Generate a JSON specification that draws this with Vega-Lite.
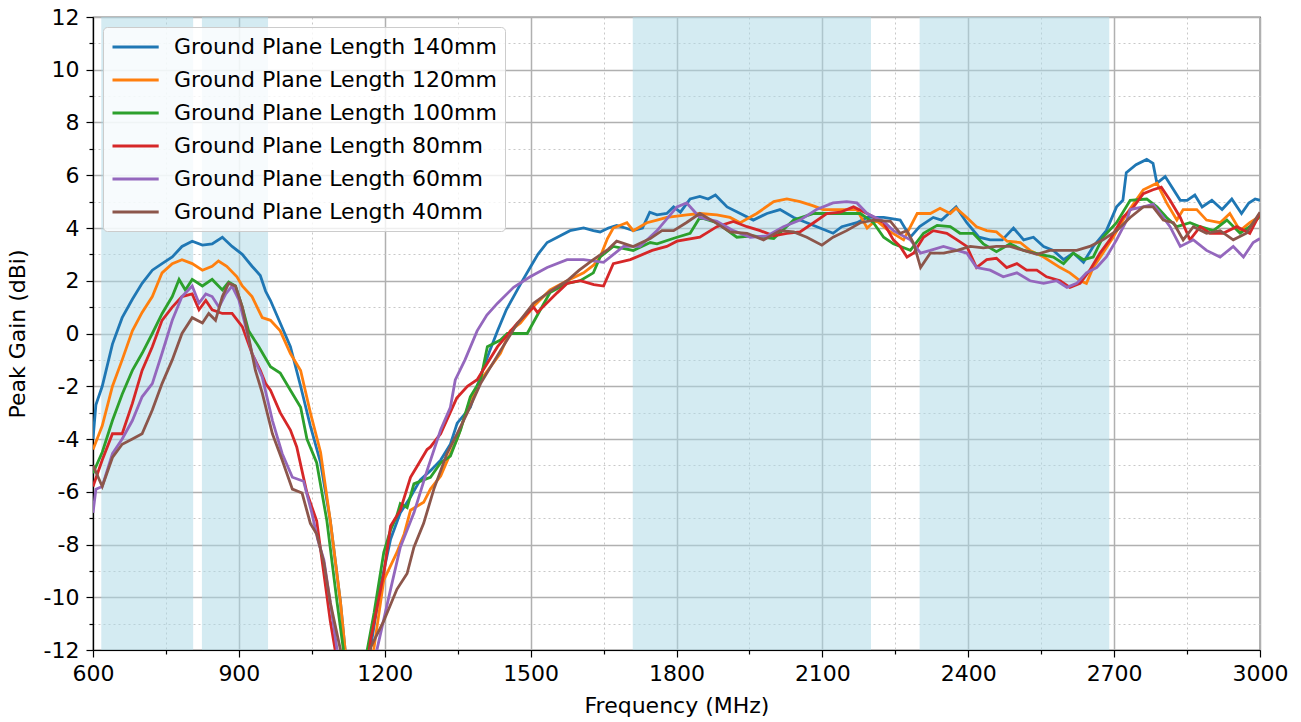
{
  "$schema": "https://vega.github.io/schema/vega-lite/v6.json",
  "width": 1167,
  "height": 633,
  "autosize": {"type": "none"},
  "padding": {"left": 93, "top": 17, "right": 41, "bottom": 72},
  "background": "white",
  "config": {
    "font": "DejaVu Sans",
    "view": {"stroke": "#000000", "strokeWidth": 1.2},
    "axis": {
      "labelFont": "DejaVu Sans", "titleFont": "DejaVu Sans",
      "labelFontSize": 22, "titleFontSize": 22, "titleFontWeight": "normal",
      "labelColor": "#000000", "titleColor": "#000000",
      "domainColor": "#000000", "domainWidth": 1.2,
      "tickColor": "#000000", "tickWidth": 1.2,
      "labelPadding": 6, "labelFlush": false
    },
    "legend": {
      "labelFont": "DejaVu Sans", "labelFontSize": 22, "labelColor": "#000000"
    }
  },
  "datasets": {
    "bands": [
      {"a": 617, "b": 806},
      {"a": 824, "b": 960},
      {"a": 1710, "b": 2200},
      {"a": 2300, "b": 2690}
    ],
    "curves": [
{"s":"140mm","f":600,"g":-4.0},{"s":"140mm","f":606,"g":-2.7},{"s":"140mm","f":619,"g":-2.0},{"s":"140mm","f":640,"g":-0.4},{"s":"140mm","f":660,"g":0.6},{"s":"140mm","f":681,"g":1.3},{"s":"140mm","f":701,"g":1.9},{"s":"140mm","f":722,"g":2.4},{"s":"140mm","f":742,"g":2.65},{"s":"140mm","f":763,"g":2.9},{"s":"140mm","f":783,"g":3.3},{"s":"140mm","f":804,"g":3.5},{"s":"140mm","f":825,"g":3.35},{"s":"140mm","f":845,"g":3.4},{"s":"140mm","f":866,"g":3.65},{"s":"140mm","f":886,"g":3.3},{"s":"140mm","f":907,"g":3.0},{"s":"140mm","f":927,"g":2.55},{"s":"140mm","f":944,"g":2.2},{"s":"140mm","f":955,"g":1.6},{"s":"140mm","f":965,"g":1.25},{"s":"140mm","f":985,"g":0.4},{"s":"140mm","f":1006,"g":-0.5},{"s":"140mm","f":1027,"g":-2.0},{"s":"140mm","f":1047,"g":-3.5},{"s":"140mm","f":1068,"g":-4.9},{"s":"140mm","f":1088,"g":-7.1},{"s":"140mm","f":1109,"g":-10.2},{"s":"140mm","f":1145,"g":-17},{"s":"140mm","f":1171,"g":-11.9},{"s":"140mm","f":1191,"g":-9.6},{"s":"140mm","f":1212,"g":-7.8},{"s":"140mm","f":1232,"g":-6.8},{"s":"140mm","f":1253,"g":-6.2},{"s":"140mm","f":1273,"g":-5.55},{"s":"140mm","f":1294,"g":-5.2},{"s":"140mm","f":1315,"g":-4.8},{"s":"140mm","f":1335,"g":-4.2},{"s":"140mm","f":1349,"g":-3.4},{"s":"140mm","f":1376,"g":-2.8},{"s":"140mm","f":1397,"g":-1.6},{"s":"140mm","f":1415,"g":-0.7},{"s":"140mm","f":1432,"g":0.1},{"s":"140mm","f":1450,"g":0.9},{"s":"140mm","f":1465,"g":1.4},{"s":"140mm","f":1480,"g":1.9},{"s":"140mm","f":1499,"g":2.5},{"s":"140mm","f":1515,"g":3.0},{"s":"140mm","f":1534,"g":3.45},{"s":"140mm","f":1560,"g":3.7},{"s":"140mm","f":1581,"g":3.9},{"s":"140mm","f":1609,"g":4.0},{"s":"140mm","f":1629,"g":3.9},{"s":"140mm","f":1643,"g":3.85},{"s":"140mm","f":1660,"g":4.0},{"s":"140mm","f":1677,"g":4.1},{"s":"140mm","f":1695,"g":4.0},{"s":"140mm","f":1711,"g":3.9},{"s":"140mm","f":1730,"g":4.0},{"s":"140mm","f":1745,"g":4.6},{"s":"140mm","f":1760,"g":4.5},{"s":"140mm","f":1780,"g":4.55},{"s":"140mm","f":1794,"g":4.8},{"s":"140mm","f":1808,"g":4.6},{"s":"140mm","f":1828,"g":5.1},{"s":"140mm","f":1848,"g":5.2},{"s":"140mm","f":1865,"g":5.1},{"s":"140mm","f":1880,"g":5.25},{"s":"140mm","f":1904,"g":4.8},{"s":"140mm","f":1931,"g":4.55},{"s":"140mm","f":1958,"g":4.3},{"s":"140mm","f":1986,"g":4.55},{"s":"140mm","f":2013,"g":4.7},{"s":"140mm","f":2041,"g":4.4},{"s":"140mm","f":2068,"g":4.2},{"s":"140mm","f":2095,"g":4.0},{"s":"140mm","f":2122,"g":3.8},{"s":"140mm","f":2140,"g":4.05},{"s":"140mm","f":2171,"g":4.2},{"s":"140mm","f":2192,"g":4.4},{"s":"140mm","f":2226,"g":4.4},{"s":"140mm","f":2260,"g":4.3},{"s":"140mm","f":2281,"g":3.65},{"s":"140mm","f":2300,"g":4.05},{"s":"140mm","f":2328,"g":4.4},{"s":"140mm","f":2345,"g":4.3},{"s":"140mm","f":2375,"g":4.8},{"s":"140mm","f":2397,"g":4.2},{"s":"140mm","f":2422,"g":3.65},{"s":"140mm","f":2445,"g":3.55},{"s":"140mm","f":2470,"g":3.55},{"s":"140mm","f":2493,"g":4.0},{"s":"140mm","f":2514,"g":3.55},{"s":"140mm","f":2534,"g":3.65},{"s":"140mm","f":2555,"g":3.3},{"s":"140mm","f":2575,"g":3.15},{"s":"140mm","f":2596,"g":2.8},{"s":"140mm","f":2616,"g":3.05},{"s":"140mm","f":2637,"g":2.7},{"s":"140mm","f":2657,"g":3.3},{"s":"140mm","f":2684,"g":3.9},{"s":"140mm","f":2705,"g":4.8},{"s":"140mm","f":2718,"g":5.05},{"s":"140mm","f":2725,"g":6.1},{"s":"140mm","f":2745,"g":6.4},{"s":"140mm","f":2767,"g":6.6},{"s":"140mm","f":2780,"g":6.45},{"s":"140mm","f":2788,"g":5.7},{"s":"140mm","f":2805,"g":5.95},{"s":"140mm","f":2836,"g":5.05},{"s":"140mm","f":2850,"g":5.05},{"s":"140mm","f":2866,"g":5.25},{"s":"140mm","f":2881,"g":4.8},{"s":"140mm","f":2901,"g":5.05},{"s":"140mm","f":2922,"g":4.7},{"s":"140mm","f":2942,"g":5.1},{"s":"140mm","f":2962,"g":4.55},{"s":"140mm","f":2977,"g":4.95},{"s":"140mm","f":2990,"g":5.1},{"s":"140mm","f":3000,"g":5.05},
{"s":"120mm","f":600,"g":-4.4},{"s":"120mm","f":619,"g":-3.5},{"s":"120mm","f":640,"g":-2.0},{"s":"120mm","f":660,"g":-1.0},{"s":"120mm","f":681,"g":0.1},{"s":"120mm","f":701,"g":0.8},{"s":"120mm","f":722,"g":1.4},{"s":"120mm","f":742,"g":2.3},{"s":"120mm","f":763,"g":2.65},{"s":"120mm","f":783,"g":2.8},{"s":"120mm","f":804,"g":2.65},{"s":"120mm","f":825,"g":2.4},{"s":"120mm","f":845,"g":2.55},{"s":"120mm","f":858,"g":2.75},{"s":"120mm","f":875,"g":2.55},{"s":"120mm","f":896,"g":2.15},{"s":"120mm","f":907,"g":1.8},{"s":"120mm","f":927,"g":1.4},{"s":"120mm","f":948,"g":0.6},{"s":"120mm","f":965,"g":0.5},{"s":"120mm","f":985,"g":0.1},{"s":"120mm","f":1006,"g":-0.76},{"s":"120mm","f":1027,"g":-1.4},{"s":"120mm","f":1047,"g":-3.0},{"s":"120mm","f":1068,"g":-4.5},{"s":"120mm","f":1088,"g":-7.1},{"s":"120mm","f":1109,"g":-10.2},{"s":"120mm","f":1145,"g":-17},{"s":"120mm","f":1178,"g":-11.9},{"s":"120mm","f":1198,"g":-9.35},{"s":"120mm","f":1225,"g":-8.3},{"s":"120mm","f":1240,"g":-7.6},{"s":"120mm","f":1253,"g":-6.7},{"s":"120mm","f":1280,"g":-6.4},{"s":"120mm","f":1294,"g":-5.9},{"s":"120mm","f":1315,"g":-5.4},{"s":"120mm","f":1335,"g":-4.55},{"s":"120mm","f":1349,"g":-4.0},{"s":"120mm","f":1376,"g":-2.5},{"s":"120mm","f":1397,"g":-1.76},{"s":"120mm","f":1420,"g":-1.2},{"s":"120mm","f":1438,"g":-0.75},{"s":"120mm","f":1458,"g":0.1},{"s":"120mm","f":1479,"g":0.4},{"s":"120mm","f":1510,"g":1.1},{"s":"120mm","f":1540,"g":1.65},{"s":"120mm","f":1575,"g":2.0},{"s":"120mm","f":1609,"g":2.3},{"s":"120mm","f":1630,"g":2.6},{"s":"120mm","f":1643,"g":2.9},{"s":"120mm","f":1658,"g":3.6},{"s":"120mm","f":1670,"g":4.0},{"s":"120mm","f":1698,"g":4.2},{"s":"120mm","f":1711,"g":3.9},{"s":"120mm","f":1739,"g":4.2},{"s":"120mm","f":1760,"g":4.3},{"s":"120mm","f":1780,"g":4.4},{"s":"120mm","f":1801,"g":4.45},{"s":"120mm","f":1821,"g":4.5},{"s":"120mm","f":1848,"g":4.55},{"s":"120mm","f":1883,"g":4.5},{"s":"120mm","f":1910,"g":4.4},{"s":"120mm","f":1931,"g":4.2},{"s":"120mm","f":1965,"g":4.55},{"s":"120mm","f":2000,"g":5.0},{"s":"120mm","f":2027,"g":5.1},{"s":"120mm","f":2054,"g":5.0},{"s":"120mm","f":2080,"g":4.85},{"s":"120mm","f":2102,"g":4.7},{"s":"120mm","f":2137,"g":4.7},{"s":"120mm","f":2171,"g":4.7},{"s":"120mm","f":2192,"g":4.0},{"s":"120mm","f":2210,"g":4.3},{"s":"120mm","f":2236,"g":3.9},{"s":"120mm","f":2267,"g":3.55},{"s":"120mm","f":2295,"g":4.55},{"s":"120mm","f":2322,"g":4.55},{"s":"120mm","f":2342,"g":4.75},{"s":"120mm","f":2363,"g":4.55},{"s":"120mm","f":2375,"g":4.75},{"s":"120mm","f":2397,"g":4.4},{"s":"120mm","f":2417,"g":4.05},{"s":"120mm","f":2438,"g":3.9},{"s":"120mm","f":2458,"g":3.85},{"s":"120mm","f":2480,"g":3.5},{"s":"120mm","f":2507,"g":3.45},{"s":"120mm","f":2527,"g":3.15},{"s":"120mm","f":2555,"g":2.9},{"s":"120mm","f":2589,"g":2.5},{"s":"120mm","f":2609,"g":2.3},{"s":"120mm","f":2630,"g":2.0},{"s":"120mm","f":2643,"g":1.9},{"s":"120mm","f":2657,"g":2.5},{"s":"120mm","f":2677,"g":3.05},{"s":"120mm","f":2698,"g":3.65},{"s":"120mm","f":2726,"g":4.55},{"s":"120mm","f":2760,"g":5.45},{"s":"120mm","f":2788,"g":5.7},{"s":"120mm","f":2808,"g":4.95},{"s":"120mm","f":2829,"g":4.3},{"s":"120mm","f":2842,"g":4.7},{"s":"120mm","f":2870,"g":4.7},{"s":"120mm","f":2890,"g":4.3},{"s":"120mm","f":2918,"g":4.2},{"s":"120mm","f":2938,"g":4.55},{"s":"120mm","f":2959,"g":3.9},{"s":"120mm","f":2979,"g":4.2},{"s":"120mm","f":3000,"g":4.45},
{"s":"100mm","f":600,"g":-5.3},{"s":"100mm","f":619,"g":-4.5},{"s":"100mm","f":640,"g":-3.3},{"s":"100mm","f":660,"g":-2.3},{"s":"100mm","f":681,"g":-1.4},{"s":"100mm","f":701,"g":-0.75},{"s":"100mm","f":722,"g":0.0},{"s":"100mm","f":742,"g":0.75},{"s":"100mm","f":763,"g":1.4},{"s":"100mm","f":777,"g":2.05},{"s":"100mm","f":790,"g":1.65},{"s":"100mm","f":804,"g":2.05},{"s":"100mm","f":825,"g":1.8},{"s":"100mm","f":845,"g":2.05},{"s":"100mm","f":866,"g":1.65},{"s":"100mm","f":879,"g":1.95},{"s":"100mm","f":893,"g":1.8},{"s":"100mm","f":907,"g":1.0},{"s":"100mm","f":920,"g":0.1},{"s":"100mm","f":941,"g":-0.5},{"s":"100mm","f":965,"g":-1.26},{"s":"100mm","f":985,"g":-1.5},{"s":"100mm","f":1006,"g":-2.15},{"s":"100mm","f":1027,"g":-2.8},{"s":"100mm","f":1040,"g":-4.0},{"s":"100mm","f":1060,"g":-4.9},{"s":"100mm","f":1081,"g":-7.1},{"s":"100mm","f":1102,"g":-10.2},{"s":"100mm","f":1115,"g":-12},{"s":"100mm","f":1140,"g":-17},{"s":"100mm","f":1164,"g":-12},{"s":"100mm","f":1178,"g":-10.6},{"s":"100mm","f":1198,"g":-8.3},{"s":"100mm","f":1212,"g":-7.45},{"s":"100mm","f":1225,"g":-6.9},{"s":"100mm","f":1232,"g":-6.45},{"s":"100mm","f":1246,"g":-6.6},{"s":"100mm","f":1260,"g":-5.7},{"s":"100mm","f":1280,"g":-5.55},{"s":"100mm","f":1294,"g":-5.45},{"s":"100mm","f":1315,"g":-4.9},{"s":"100mm","f":1335,"g":-4.65},{"s":"100mm","f":1356,"g":-3.65},{"s":"100mm","f":1376,"g":-2.4},{"s":"100mm","f":1397,"g":-1.76},{"s":"100mm","f":1411,"g":-0.5},{"s":"100mm","f":1438,"g":-0.25},{"s":"100mm","f":1452,"g":0.0},{"s":"100mm","f":1493,"g":0.0},{"s":"100mm","f":1520,"g":0.9},{"s":"100mm","f":1540,"g":1.55},{"s":"100mm","f":1575,"g":1.9},{"s":"100mm","f":1602,"g":2.0},{"s":"100mm","f":1629,"g":2.3},{"s":"100mm","f":1643,"g":2.9},{"s":"100mm","f":1670,"g":3.3},{"s":"100mm","f":1711,"g":3.15},{"s":"100mm","f":1746,"g":3.45},{"s":"100mm","f":1760,"g":3.4},{"s":"100mm","f":1801,"g":3.65},{"s":"100mm","f":1828,"g":3.8},{"s":"100mm","f":1848,"g":4.4},{"s":"100mm","f":1883,"g":4.2},{"s":"100mm","f":1924,"g":3.65},{"s":"100mm","f":1958,"g":3.7},{"s":"100mm","f":2000,"g":3.6},{"s":"100mm","f":2041,"g":4.3},{"s":"100mm","f":2082,"g":4.55},{"s":"100mm","f":2122,"g":4.55},{"s":"100mm","f":2178,"g":4.55},{"s":"100mm","f":2205,"g":4.2},{"s":"100mm","f":2226,"g":3.65},{"s":"100mm","f":2246,"g":3.4},{"s":"100mm","f":2281,"g":3.15},{"s":"100mm","f":2308,"g":3.8},{"s":"100mm","f":2336,"g":4.1},{"s":"100mm","f":2363,"g":4.05},{"s":"100mm","f":2383,"g":3.8},{"s":"100mm","f":2410,"g":3.8},{"s":"100mm","f":2431,"g":3.4},{"s":"100mm","f":2458,"g":3.1},{"s":"100mm","f":2486,"g":3.4},{"s":"100mm","f":2514,"g":3.15},{"s":"100mm","f":2548,"g":3.0},{"s":"100mm","f":2575,"g":2.9},{"s":"100mm","f":2596,"g":2.65},{"s":"100mm","f":2616,"g":3.05},{"s":"100mm","f":2637,"g":2.8},{"s":"100mm","f":2657,"g":2.9},{"s":"100mm","f":2677,"g":3.65},{"s":"100mm","f":2705,"g":4.2},{"s":"100mm","f":2733,"g":5.05},{"s":"100mm","f":2767,"g":5.1},{"s":"100mm","f":2788,"g":4.8},{"s":"100mm","f":2808,"g":4.4},{"s":"100mm","f":2829,"g":4.05},{"s":"100mm","f":2856,"g":4.2},{"s":"100mm","f":2877,"g":4.05},{"s":"100mm","f":2904,"g":3.9},{"s":"100mm","f":2932,"g":4.3},{"s":"100mm","f":2959,"g":3.8},{"s":"100mm","f":2979,"g":4.05},{"s":"100mm","f":3000,"g":4.45},
{"s":"80mm","f":600,"g":-5.8},{"s":"80mm","f":619,"g":-4.8},{"s":"80mm","f":640,"g":-3.8},{"s":"80mm","f":660,"g":-3.8},{"s":"80mm","f":681,"g":-2.65},{"s":"80mm","f":701,"g":-1.4},{"s":"80mm","f":722,"g":-0.5},{"s":"80mm","f":742,"g":0.5},{"s":"80mm","f":763,"g":1.0},{"s":"80mm","f":783,"g":1.4},{"s":"80mm","f":804,"g":1.5},{"s":"80mm","f":818,"g":0.9},{"s":"80mm","f":832,"g":1.25},{"s":"80mm","f":845,"g":0.9},{"s":"80mm","f":866,"g":0.76},{"s":"80mm","f":886,"g":0.76},{"s":"80mm","f":907,"g":0.26},{"s":"80mm","f":927,"g":-0.76},{"s":"80mm","f":944,"g":-1.4},{"s":"80mm","f":955,"g":-1.9},{"s":"80mm","f":965,"g":-2.15},{"s":"80mm","f":985,"g":-3.0},{"s":"80mm","f":1006,"g":-3.66},{"s":"80mm","f":1019,"g":-4.3},{"s":"80mm","f":1040,"g":-6.05},{"s":"80mm","f":1060,"g":-7.1},{"s":"80mm","f":1074,"g":-9.0},{"s":"80mm","f":1088,"g":-10.9},{"s":"80mm","f":1098,"g":-12},{"s":"80mm","f":1135,"g":-17},{"s":"80mm","f":1171,"g":-11.6},{"s":"80mm","f":1198,"g":-9.1},{"s":"80mm","f":1212,"g":-7.3},{"s":"80mm","f":1232,"g":-6.7},{"s":"80mm","f":1253,"g":-5.45},{"s":"80mm","f":1266,"g":-5.05},{"s":"80mm","f":1287,"g":-4.4},{"s":"80mm","f":1294,"g":-4.3},{"s":"80mm","f":1315,"g":-3.8},{"s":"80mm","f":1348,"g":-2.45},{"s":"80mm","f":1370,"g":-2.0},{"s":"80mm","f":1390,"g":-1.75},{"s":"80mm","f":1432,"g":-0.5},{"s":"80mm","f":1473,"g":0.4},{"s":"80mm","f":1506,"g":1.0},{"s":"80mm","f":1514,"g":0.8},{"s":"80mm","f":1555,"g":1.55},{"s":"80mm","f":1575,"g":1.9},{"s":"80mm","f":1602,"g":2.0},{"s":"80mm","f":1630,"g":1.85},{"s":"80mm","f":1650,"g":1.8},{"s":"80mm","f":1670,"g":2.65},{"s":"80mm","f":1705,"g":2.8},{"s":"80mm","f":1750,"g":3.15},{"s":"80mm","f":1780,"g":3.3},{"s":"80mm","f":1801,"g":3.5},{"s":"80mm","f":1848,"g":3.65},{"s":"80mm","f":1883,"g":4.05},{"s":"80mm","f":1917,"g":4.25},{"s":"80mm","f":1945,"g":4.05},{"s":"80mm","f":1972,"g":3.9},{"s":"80mm","f":2000,"g":3.7},{"s":"80mm","f":2027,"g":3.8},{"s":"80mm","f":2054,"g":3.85},{"s":"80mm","f":2082,"g":4.2},{"s":"80mm","f":2109,"g":4.55},{"s":"80mm","f":2137,"g":4.6},{"s":"80mm","f":2164,"g":4.8},{"s":"80mm","f":2192,"g":4.55},{"s":"80mm","f":2226,"g":4.2},{"s":"80mm","f":2246,"g":3.55},{"s":"80mm","f":2260,"g":3.3},{"s":"80mm","f":2274,"g":2.9},{"s":"80mm","f":2288,"g":3.05},{"s":"80mm","f":2308,"g":3.65},{"s":"80mm","f":2328,"g":3.9},{"s":"80mm","f":2356,"g":3.8},{"s":"80mm","f":2377,"g":3.55},{"s":"80mm","f":2397,"g":3.3},{"s":"80mm","f":2417,"g":2.5},{"s":"80mm","f":2438,"g":2.8},{"s":"80mm","f":2458,"g":2.85},{"s":"80mm","f":2479,"g":2.5},{"s":"80mm","f":2500,"g":2.65},{"s":"80mm","f":2520,"g":2.4},{"s":"80mm","f":2541,"g":2.4},{"s":"80mm","f":2561,"g":2.15},{"s":"80mm","f":2589,"g":2.0},{"s":"80mm","f":2609,"g":1.75},{"s":"80mm","f":2630,"g":1.9},{"s":"80mm","f":2650,"g":2.4},{"s":"80mm","f":2671,"g":3.05},{"s":"80mm","f":2691,"g":3.55},{"s":"80mm","f":2718,"g":4.4},{"s":"80mm","f":2740,"g":4.8},{"s":"80mm","f":2760,"g":5.3},{"s":"80mm","f":2780,"g":5.45},{"s":"80mm","f":2797,"g":5.55},{"s":"80mm","f":2815,"g":5.05},{"s":"80mm","f":2836,"g":4.4},{"s":"80mm","f":2856,"g":3.55},{"s":"80mm","f":2877,"g":4.05},{"s":"80mm","f":2897,"g":3.8},{"s":"80mm","f":2924,"g":3.8},{"s":"80mm","f":2952,"g":4.05},{"s":"80mm","f":2979,"g":3.8},{"s":"80mm","f":3000,"g":4.55},
{"s":"60mm","f":600,"g":-6.8},{"s":"60mm","f":606,"g":-5.9},{"s":"60mm","f":619,"g":-5.8},{"s":"60mm","f":640,"g":-4.55},{"s":"60mm","f":660,"g":-4.0},{"s":"60mm","f":681,"g":-3.3},{"s":"60mm","f":701,"g":-2.4},{"s":"60mm","f":722,"g":-1.9},{"s":"60mm","f":742,"g":-0.75},{"s":"60mm","f":763,"g":0.5},{"s":"60mm","f":783,"g":1.4},{"s":"60mm","f":804,"g":1.8},{"s":"60mm","f":818,"g":1.15},{"s":"60mm","f":832,"g":1.5},{"s":"60mm","f":845,"g":1.4},{"s":"60mm","f":859,"g":1.0},{"s":"60mm","f":873,"g":1.5},{"s":"60mm","f":886,"g":1.8},{"s":"60mm","f":900,"g":1.27},{"s":"60mm","f":914,"g":0.26},{"s":"60mm","f":927,"g":-0.76},{"s":"60mm","f":948,"g":-1.65},{"s":"60mm","f":969,"g":-3.3},{"s":"60mm","f":989,"g":-4.55},{"s":"60mm","f":1010,"g":-5.45},{"s":"60mm","f":1033,"g":-5.6},{"s":"60mm","f":1050,"g":-6.8},{"s":"60mm","f":1062,"g":-7.8},{"s":"60mm","f":1075,"g":-8.6},{"s":"60mm","f":1088,"g":-10.2},{"s":"60mm","f":1102,"g":-12},{"s":"60mm","f":1130,"g":-17},{"s":"60mm","f":1185,"g":-11.9},{"s":"60mm","f":1212,"g":-9.7},{"s":"60mm","f":1232,"g":-8.1},{"s":"60mm","f":1260,"g":-6.8},{"s":"60mm","f":1287,"g":-5.2},{"s":"60mm","f":1315,"g":-3.65},{"s":"60mm","f":1335,"g":-2.8},{"s":"60mm","f":1345,"g":-1.76},{"s":"60mm","f":1365,"g":-1.0},{"s":"60mm","f":1390,"g":0.1},{"s":"60mm","f":1410,"g":0.7},{"s":"60mm","f":1432,"g":1.15},{"s":"60mm","f":1465,"g":1.75},{"s":"60mm","f":1499,"g":2.15},{"s":"60mm","f":1534,"g":2.5},{"s":"60mm","f":1575,"g":2.8},{"s":"60mm","f":1609,"g":2.8},{"s":"60mm","f":1650,"g":2.7},{"s":"60mm","f":1691,"g":3.3},{"s":"60mm","f":1725,"g":3.3},{"s":"60mm","f":1760,"g":3.9},{"s":"60mm","f":1801,"g":4.8},{"s":"60mm","f":1821,"g":4.95},{"s":"60mm","f":1848,"g":4.4},{"s":"60mm","f":1883,"g":4.25},{"s":"60mm","f":1917,"g":3.9},{"s":"60mm","f":1952,"g":3.65},{"s":"60mm","f":1986,"g":3.7},{"s":"60mm","f":2020,"g":4.05},{"s":"60mm","f":2054,"g":4.3},{"s":"60mm","f":2088,"g":4.7},{"s":"60mm","f":2122,"g":4.95},{"s":"60mm","f":2150,"g":5.0},{"s":"60mm","f":2171,"g":4.95},{"s":"60mm","f":2192,"g":4.55},{"s":"60mm","f":2226,"g":4.25},{"s":"60mm","f":2246,"g":3.9},{"s":"60mm","f":2281,"g":3.55},{"s":"60mm","f":2302,"g":3.05},{"s":"60mm","f":2322,"g":3.15},{"s":"60mm","f":2349,"g":3.3},{"s":"60mm","f":2377,"g":3.15},{"s":"60mm","f":2397,"g":3.05},{"s":"60mm","f":2417,"g":2.5},{"s":"60mm","f":2445,"g":2.4},{"s":"60mm","f":2472,"g":2.15},{"s":"60mm","f":2500,"g":2.3},{"s":"60mm","f":2527,"g":2.0},{"s":"60mm","f":2555,"g":1.9},{"s":"60mm","f":2582,"g":2.0},{"s":"60mm","f":2603,"g":1.75},{"s":"60mm","f":2623,"g":1.9},{"s":"60mm","f":2643,"g":2.3},{"s":"60mm","f":2664,"g":2.5},{"s":"60mm","f":2684,"g":2.9},{"s":"60mm","f":2705,"g":3.55},{"s":"60mm","f":2726,"g":4.3},{"s":"60mm","f":2733,"g":4.7},{"s":"60mm","f":2760,"g":4.8},{"s":"60mm","f":2780,"g":4.9},{"s":"60mm","f":2801,"g":4.4},{"s":"60mm","f":2815,"g":4.05},{"s":"60mm","f":2836,"g":3.3},{"s":"60mm","f":2863,"g":3.55},{"s":"60mm","f":2890,"g":3.15},{"s":"60mm","f":2918,"g":2.9},{"s":"60mm","f":2945,"g":3.3},{"s":"60mm","f":2966,"g":2.9},{"s":"60mm","f":2986,"g":3.45},{"s":"60mm","f":3000,"g":3.6},
{"s":"40mm","f":600,"g":-5.0},{"s":"40mm","f":619,"g":-5.8},{"s":"40mm","f":640,"g":-4.7},{"s":"40mm","f":660,"g":-4.2},{"s":"40mm","f":681,"g":-4.0},{"s":"40mm","f":701,"g":-3.8},{"s":"40mm","f":722,"g":-2.9},{"s":"40mm","f":742,"g":-1.9},{"s":"40mm","f":763,"g":-1.0},{"s":"40mm","f":783,"g":0.0},{"s":"40mm","f":804,"g":0.6},{"s":"40mm","f":825,"g":0.4},{"s":"40mm","f":838,"g":0.76},{"s":"40mm","f":852,"g":0.5},{"s":"40mm","f":866,"g":1.4},{"s":"40mm","f":879,"g":1.9},{"s":"40mm","f":893,"g":1.8},{"s":"40mm","f":907,"g":1.0},{"s":"40mm","f":920,"g":-0.13},{"s":"40mm","f":934,"g":-1.4},{"s":"40mm","f":948,"g":-2.25},{"s":"40mm","f":969,"g":-3.8},{"s":"40mm","f":989,"g":-4.8},{"s":"40mm","f":1010,"g":-5.9},{"s":"40mm","f":1030,"g":-6.05},{"s":"40mm","f":1047,"g":-7.2},{"s":"40mm","f":1060,"g":-7.6},{"s":"40mm","f":1075,"g":-8.7},{"s":"40mm","f":1088,"g":-10.2},{"s":"40mm","f":1109,"g":-12},{"s":"40mm","f":1135,"g":-17},{"s":"40mm","f":1171,"g":-11.9},{"s":"40mm","f":1198,"g":-10.9},{"s":"40mm","f":1225,"g":-9.7},{"s":"40mm","f":1246,"g":-9.1},{"s":"40mm","f":1260,"g":-8.1},{"s":"40mm","f":1280,"g":-7.2},{"s":"40mm","f":1301,"g":-5.9},{"s":"40mm","f":1328,"g":-4.55},{"s":"40mm","f":1349,"g":-3.8},{"s":"40mm","f":1370,"g":-3.0},{"s":"40mm","f":1397,"g":-1.9},{"s":"40mm","f":1438,"g":-0.65},{"s":"40mm","f":1470,"g":0.3},{"s":"40mm","f":1506,"g":1.15},{"s":"40mm","f":1540,"g":1.6},{"s":"40mm","f":1575,"g":2.0},{"s":"40mm","f":1600,"g":2.4},{"s":"40mm","f":1629,"g":2.8},{"s":"40mm","f":1660,"g":3.2},{"s":"40mm","f":1677,"g":3.5},{"s":"40mm","f":1711,"g":3.3},{"s":"40mm","f":1746,"g":3.6},{"s":"40mm","f":1770,"g":3.9},{"s":"40mm","f":1794,"g":3.9},{"s":"40mm","f":1820,"g":4.2},{"s":"40mm","f":1848,"g":4.55},{"s":"40mm","f":1876,"g":4.25},{"s":"40mm","f":1910,"g":3.85},{"s":"40mm","f":1945,"g":3.8},{"s":"40mm","f":1979,"g":3.55},{"s":"40mm","f":2013,"g":3.9},{"s":"40mm","f":2041,"g":3.85},{"s":"40mm","f":2068,"g":3.65},{"s":"40mm","f":2099,"g":3.35},{"s":"40mm","f":2122,"g":3.65},{"s":"40mm","f":2150,"g":3.9},{"s":"40mm","f":2178,"g":4.2},{"s":"40mm","f":2205,"g":4.3},{"s":"40mm","f":2240,"g":4.25},{"s":"40mm","f":2260,"g":3.8},{"s":"40mm","f":2274,"g":3.9},{"s":"40mm","f":2288,"g":3.4},{"s":"40mm","f":2302,"g":2.5},{"s":"40mm","f":2322,"g":3.05},{"s":"40mm","f":2349,"g":3.05},{"s":"40mm","f":2377,"g":3.15},{"s":"40mm","f":2404,"g":3.3},{"s":"40mm","f":2431,"g":3.25},{"s":"40mm","f":2458,"g":3.3},{"s":"40mm","f":2486,"g":3.3},{"s":"40mm","f":2514,"g":3.15},{"s":"40mm","f":2541,"g":3.0},{"s":"40mm","f":2568,"g":3.15},{"s":"40mm","f":2596,"g":3.15},{"s":"40mm","f":2623,"g":3.15},{"s":"40mm","f":2650,"g":3.3},{"s":"40mm","f":2677,"g":3.55},{"s":"40mm","f":2705,"g":3.9},{"s":"40mm","f":2733,"g":4.4},{"s":"40mm","f":2760,"g":4.8},{"s":"40mm","f":2780,"g":4.8},{"s":"40mm","f":2801,"g":4.3},{"s":"40mm","f":2822,"g":4.2},{"s":"40mm","f":2842,"g":3.55},{"s":"40mm","f":2863,"g":4.05},{"s":"40mm","f":2890,"g":3.8},{"s":"40mm","f":2918,"g":3.9},{"s":"40mm","f":2945,"g":3.55},{"s":"40mm","f":2972,"g":3.8},{"s":"40mm","f":3000,"g":4.6}
    ]
  },
  "layer": [
    {
      "data": {"name": "bands"},
      "mark": {"type": "rect", "color": "#add8e6", "opacity": 0.52},
      "encoding": {
        "x": {"field": "a", "type": "quantitative", "scale": {"domain": [600, 3000], "nice": false, "zero": false},
          "axis": {
            "title": "Frequency (MHz)",
            "values": [600,750,900,1050,1200,1350,1500,1650,1800,1950,2100,2250,2400,2550,2700,2850,3000],
            "labelExpr": "datum.value % 300 === 0 ? '' + datum.value : ''",
            "tickSize": {"condition": {"test": "datum.value % 300 !== 0", "value": 4}, "value": 7},
            "grid": true,
            "gridColor": {"condition": {"test": "datum.value % 300 !== 0", "value": "#c8c8c8"}, "value": "#b0b0b0"},
            "gridDash": {"condition": {"test": "datum.value % 300 !== 0", "value": [2, 3]}, "value": []},
            "gridWidth": {"condition": {"test": "datum.value % 300 !== 0", "value": 1}, "value": 1.5},
            "titlePadding": 11
          }},
        "x2": {"field": "b"}
      }
    },
    {
      "data": {"name": "curves"},
      "mark": {"type": "line", "strokeWidth": 2.8, "clip": true},
      "encoding": {
        "x": {"field": "f", "type": "quantitative"},
        "y": {"field": "g", "type": "quantitative", "scale": {"domain": [-12, 12], "nice": false, "zero": false},
          "axis": {
            "title": "Peak Gain (dBi)",
            "values": [-12,-11,-10,-9,-8,-7,-6,-5,-4,-3,-2,-1,0,1,2,3,4,5,6,7,8,9,10,11,12],
            "labelExpr": "datum.value % 2 === 0 ? '' + datum.value : ''",
            "tickSize": {"condition": {"test": "datum.value % 2 !== 0", "value": 4}, "value": 7},
            "grid": true,
            "gridColor": {"condition": {"test": "datum.value % 2 !== 0", "value": "#c8c8c8"}, "value": "#b0b0b0"},
            "gridDash": {"condition": {"test": "datum.value % 2 !== 0", "value": [2, 3]}, "value": []},
            "gridWidth": {"condition": {"test": "datum.value % 2 !== 0", "value": 1}, "value": 1.5},
            "labelPadding": 7,
            "titlePadding": 14
          }},
        "color": {
          "field": "s", "type": "nominal",
          "scale": {"domain": ["140mm","120mm","100mm","80mm","60mm","40mm"],
                    "range": ["#1f77b4","#ff7f0e","#2ca02c","#d62728","#9467bd","#8c564b"]},
          "legend": {
            "title": null,
            "orient": "top-left",
            "offset": 10,
            "labelExpr": "'Ground Plane Length ' + datum.label",
            "symbolType": "M-1,0L3.4,0",
            "symbolSize": 441,
            "symbolStrokeWidth": 3,
            "labelOffset": 39,
            "rowPadding": 10,
            "padding": 8,
            "fillColor": "rgba(255,255,255,0.8)",
            "strokeColor": "#cccccc",
            "cornerRadius": 4,
            "labelLimit": 400
          }
        }
      }
    }
  ]
}
